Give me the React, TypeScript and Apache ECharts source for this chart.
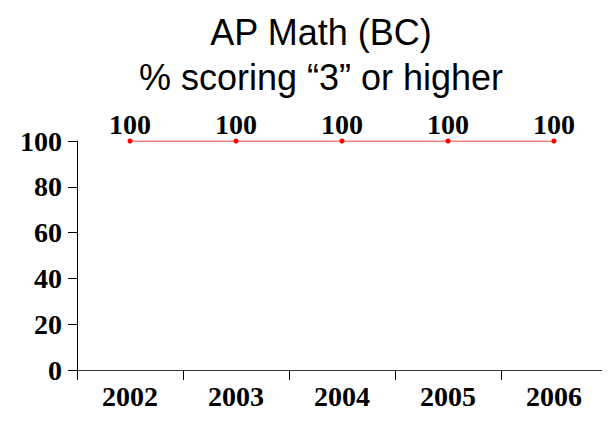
import React, { useEffect, useRef } from "react";
import * as echarts from "echarts";

const years = ["2002", "2003", "2004", "2005", "2006"];
const percentScoring3OrHigher = [100, 100, 100, 100, 100];
const titleLines = ["AP Math (BC)", "% scoring \u201c3\u201d or higher"];

const serif = "Liberation Serif, Times New Roman, serif";

export default function App() {
  const ref = useRef<HTMLDivElement>(null);
  useEffect(() => {
    const chart = echarts.init(ref.current!, null, { renderer: "svg" });
    chart.setOption({
      animation: false,
      backgroundColor: "#ffffff",
      title: {
        text: titleLines.join("\n"),
        left: 316,
        textAlign: "center",
        top: 5,
        textStyle: {
          fontFamily: "Liberation Sans, Arial, sans-serif",
          fontSize: 36,
          fontWeight: "normal",
          color: "#000",
          lineHeight: 45,
        },
      },
      grid: { left: 77, right: 3, top: 141, bottom: 58, containLabel: false },
      xAxis: {
        type: "category",
        data: years,
        boundaryGap: true,
        axisLine: { lineStyle: { color: "#333", width: 1 } },
        axisTick: { show: true, length: 10, inside: false, lineStyle: { color: "#000" } },
        axisLabel: {
          margin: 12,
          fontFamily: serif,
          fontWeight: "bold",
          fontSize: 28,
          color: "#000",
        },
        splitLine: { show: false },
      },
      yAxis: {
        type: "value",
        min: 0,
        max: 100,
        interval: 20,
        axisLine: { show: true, lineStyle: { color: "#000", width: 1 } },
        axisTick: { show: true, length: 9, inside: false, lineStyle: { color: "#000" } },
        axisLabel: {
          margin: 15,
          fontFamily: serif,
          fontWeight: "bold",
          fontSize: 28,
          color: "#000",
        },
        splitLine: { show: false },
      },
      series: [
        {
          type: "line",
          data: percentScoring3OrHigher,
          symbol: "circle",
          symbolSize: 5,
          itemStyle: { color: "#ff0000" },
          lineStyle: { color: "#ff0000", width: 1 },
          label: {
            show: true,
            position: "top",
            distance: 0,
            fontFamily: serif,
            fontWeight: "bold",
            fontSize: 28,
            color: "#000",
          },
        },
      ],
    });
    return () => chart.dispose();
  }, []);
  return <div ref={ref} style={{ width: 610, height: 428, margin: -8 }} />;
}
